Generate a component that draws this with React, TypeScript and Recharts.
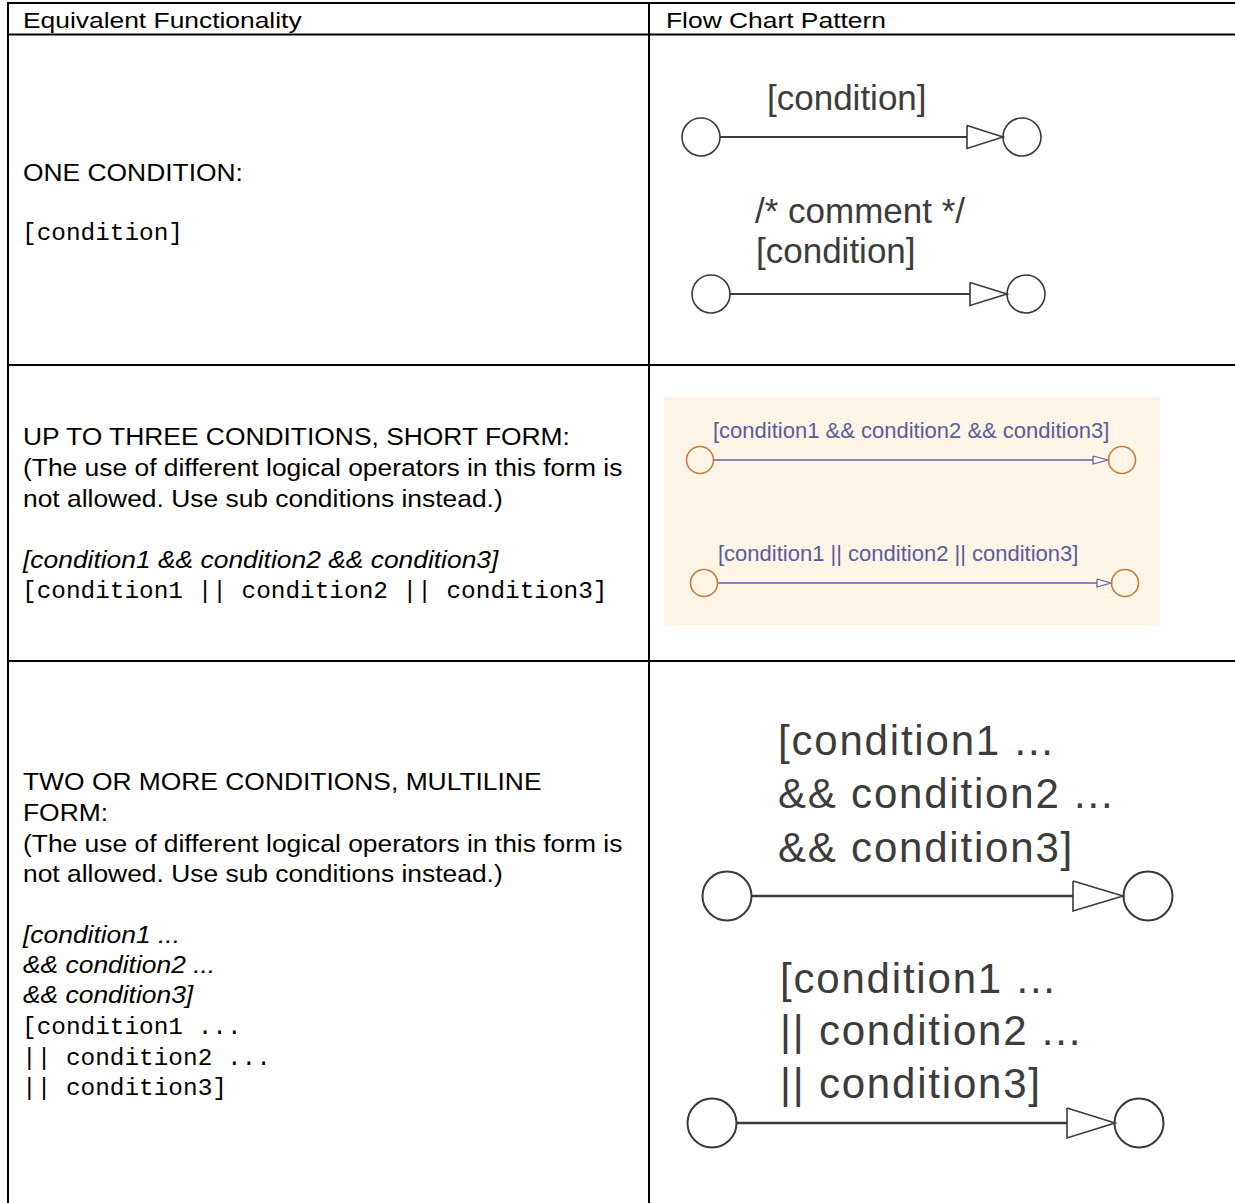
import React from 'react';
import { ComposedChart, XAxis, YAxis, Line, Scatter, ReferenceLine, ReferenceArea } from 'recharts';

const WIDTH = 1235;
const HEIGHT = 1203;

// table rules (x of vertical rules, y of horizontal rules)
const columnRules = [8, 649];
const rowRules = [3, 34.5, 365, 661];

// beige Stateflow panel in row 2
const panelX = [664, 1160];
const panelY = [397, 625];

const headerLabels = ['Equivalent Functionality', 'Flow Chart Pattern'];
const headerX = [23, 666];
const headerY = [28, 28];

// left column lines: text, kind, baseline
const leftText = [
  'ONE CONDITION:',
  '[condition]',
  'UP TO THREE CONDITIONS, SHORT FORM:',
  '(The use of different logical operators in this form is',
  'not allowed. Use sub conditions instead.)',
  '[condition1 && condition2 && condition3]',
  '[condition1 || condition2 || condition3]',
  'TWO OR MORE CONDITIONS, MULTILINE',
  'FORM:',
  '(The use of different logical operators in this form is',
  'not allowed. Use sub conditions instead.)',
  '[condition1 ...',
  '&& condition2 ...',
  '&& condition3]',
  '[condition1 ...',
  '|| condition2 ...',
  '|| condition3]',
];
const leftKind = [
  'body', 'mono',
  'body', 'body', 'body', 'italic', 'mono',
  'body', 'body', 'body', 'body', 'italic', 'italic', 'italic', 'mono', 'mono', 'mono',
];
const leftY = [181, 240, 445, 476, 507, 568, 598, 790, 821, 852, 882, 943, 973, 1003, 1034, 1065, 1095];

// transition labels in the flow chart column
const labelText = [
  '[condition]',
  '/* comment */',
  '[condition]',
  '[condition1 && condition2 && condition3]',
  '[condition1 || condition2 || condition3]',
  '[condition1 ...',
  '&& condition2 ...',
  '&& condition3]',
  '[condition1 ...',
  '|| condition2 ...',
  '|| condition3]',
];
const labelKind = ['plain', 'plain', 'plain', 'panel', 'panel', 'large', 'large', 'large', 'large', 'large', 'large'];
const labelX = [767, 755, 756, 713, 718, 778, 778, 778, 780, 780, 780];
const labelY = [110, 223, 263, 438, 561, 755, 808, 862, 993, 1045, 1098];

// transitions: source node, edge, arrow, destination node
const transitionKind = ['plain', 'plain', 'panel', 'panel', 'large', 'large'];
const transitionY = [137, 294, 460, 583, 896, 1123];
const sourceX = [701, 711, 700, 704, 727, 712];
const edgeStartX = [720, 730, 713, 717, 751, 737];
const arrowBaseX = [967, 970, 1093, 1097, 1073, 1067];
const arrowTipX = [1003, 1007, 1108, 1111, 1123, 1115];
const targetX = [1022, 1026, 1122, 1125, 1148, 1139];

const FONTS: Record<string, any> = {
  header: { family: '"Liberation Sans", Arial, sans-serif', size: 22, sx: 1.2, color: '#000' },
  body: { family: '"Liberation Sans", Arial, sans-serif', size: 24, sx: 1.1, color: '#000' },
  italic: { family: '"Liberation Sans", Arial, sans-serif', size: 24, sx: 1.1, color: '#000', italic: true },
  mono: { family: '"Liberation Mono", "DejaVu Sans Mono", monospace', size: 24.4, sx: 1, color: '#000' },
  plain: { family: '"Liberation Sans", Arial, sans-serif', size: 35, sx: 1, color: '#3c3c3c' },
  panel: { family: '"Liberation Sans", Arial, sans-serif', size: 22, sx: 1, color: '#585d9c' },
  large: { family: '"Liberation Sans", Arial, sans-serif', size: 42, sx: 1, color: '#3c3c3c', ls: 1.8 },
};

const DIAGRAM: Record<string, any> = {
  plain: { r: 19, edge: '#3a3a3a', node: '#3a3a3a', width: 2, head: 11.5, nodeWidth: 1.6 },
  panel: { r: 13.5, edge: '#5c62a0', node: '#c47d3c', width: 1.4, head: 4, nodeWidth: 1.6 },
  large: { r: 24.5, edge: '#3a3a3a', node: '#3a3a3a', width: 2.6, head: 15, nodeWidth: 2 },
};

const textData = [
  ...headerLabels.map((text, i) => ({ x: headerX[i], y: headerY[i], text, kind: 'header' })),
  ...leftText.map((text, i) => ({ x: leftKind[i] === 'mono' ? 22 : 23, y: leftY[i], text, kind: leftKind[i] })),
  ...labelText.map((text, i) => ({ x: labelX[i], y: labelY[i], text, kind: labelKind[i] })),
];

const nodeData = transitionKind.flatMap((kind, i) => [
  { x: sourceX[i], y: transitionY[i], kind },
  { x: targetX[i], y: transitionY[i], kind },
]);

const TextMark = (p: any) => {
  const f = FONTS[p.payload.kind];
  return (
    <text
      transform={`translate(${p.cx},${p.cy}) scale(${f.sx},1)`}
      x={0}
      y={0}
      fontFamily={f.family}
      fontSize={f.size}
      fontStyle={f.italic ? 'italic' : 'normal'}
      letterSpacing={f.ls || 0}
      fill={f.color}
      style={{ whiteSpace: 'pre' }}
    >
      {p.payload.text}
    </text>
  );
};

const NodeMark = (p: any) => {
  const d = DIAGRAM[p.payload.kind];
  return <circle cx={p.cx} cy={p.cy} r={d.r} fill="none" stroke={d.node} strokeWidth={d.nodeWidth} />;
};

export default function App() {
  return (
    <div style={{ position: 'absolute', left: 0, top: 0, background: '#fff' }}>
      <ComposedChart width={WIDTH} height={HEIGHT} margin={{ top: 0, right: 0, bottom: 0, left: 0 }}>
        <XAxis type="number" dataKey="x" domain={[0, WIDTH]} hide />
        <YAxis type="number" dataKey="y" domain={[0, HEIGHT]} reversed hide />

        <ReferenceArea x1={panelX[0]} x2={panelX[1]} y1={panelY[0]} y2={panelY[1]} fill="#fef5e6" fillOpacity={1} stroke="none" />

        {rowRules.map((y) => (
          <ReferenceLine key={`r${y}`} segment={[{ x: columnRules[0] - 1, y }, { x: WIDTH, y }]} stroke="#000" strokeWidth={2} />
        ))}
        {columnRules.map((x) => (
          <ReferenceLine key={`c${x}`} segment={[{ x, y: rowRules[0] - 1 }, { x, y: HEIGHT }]} stroke="#000" strokeWidth={2} />
        ))}

        {transitionKind.map((kind, i) => (
          <Line
            key={`edge${i}`}
            data={[{ x: edgeStartX[i], y: transitionY[i] }, { x: arrowBaseX[i], y: transitionY[i] }]}
            dataKey="y"
            stroke={DIAGRAM[kind].edge}
            strokeWidth={DIAGRAM[kind].width}
            dot={false}
            activeDot={false}
            isAnimationActive={false}
          />
        ))}
        {transitionKind.map((kind, i) => (
          <Line
            key={`arrow${i}`}
            data={[
              { x: arrowBaseX[i], y: transitionY[i] - DIAGRAM[kind].head },
              { x: arrowTipX[i], y: transitionY[i] },
              { x: arrowBaseX[i], y: transitionY[i] + DIAGRAM[kind].head },
              { x: arrowBaseX[i], y: transitionY[i] - DIAGRAM[kind].head },
            ]}
            dataKey="y"
            stroke={DIAGRAM[kind].edge}
            strokeWidth={kind === 'panel' ? 1.2 : 1.6}
            strokeLinejoin="miter"
            fill="none"
            dot={false}
            activeDot={false}
            isAnimationActive={false}
          />
        ))}

        <Scatter data={nodeData} dataKey="y" shape={NodeMark} isAnimationActive={false} />
        <Scatter data={textData} dataKey="y" shape={TextMark} isAnimationActive={false} />
      </ComposedChart>
    </div>
  );
}
